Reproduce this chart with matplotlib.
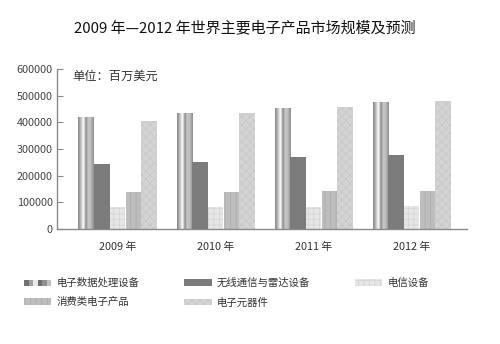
import numpy as np
import matplotlib
matplotlib.use("Agg")
import matplotlib.pyplot as plt
from matplotlib.patches import Rectangle
from matplotlib.colors import LinearSegmentedColormap
from matplotlib.legend_handler import HandlerBase

plt.rcParams['font.family'] = ['Noto Sans CJK SC', 'DejaVu Sans']
plt.rcParams['hatch.linewidth'] = 0.5

# Market size by product category (million USD)
years = ["2009 年", "2010 年", "2011 年", "2012 年"]
series_names = ["电子数据处理设备", "无线通信与雷达设备", "电信设备", "消费类电子产品", "电子元器件"]
edp = [419000, 434000, 454000, 476000]
wireless = [243000, 250000, 269000, 277000]
telecom = [82000, 82000, 82000, 86000]
consumer = [137000, 137000, 142000, 141000]
components = [406000, 434000, 456000, 480000]
yticks = [0, 100000, 200000, 300000, 400000, 500000, 600000]

values = [edp, wireless, telecom, consumer, components]

# metallic cylinder look for the first series
metal = LinearSegmentedColormap.from_list("metal", [
    (0.00, "#858585"), (0.12, "#a8a8a8"), (0.28, "#e6e6e6"), (0.36, "#ffffff"),
    (0.44, "#b4b4b4"), (0.52, "#8c8c8c"), (0.62, "#c6c6c6"), (0.78, "#c0c0c0"),
    (1.00, "#8e8e8e")])

styles = [
    None,
    dict(facecolor="#7b7b7b", edgecolor="#9a9a9a", hatch=None),
    dict(facecolor="#e6e6e6", edgecolor="#d4d4d4", hatch="+++"),
    dict(facecolor="#bdbdbd", edgecolor="#a9a9a9", hatch="|||"),
    dict(facecolor="#d3d3d3", edgecolor="#c6c6c6", hatch="xxxx"),
]

fig = plt.figure(figsize=(5.0, 3.44), dpi=100)
ax = fig.add_axes([0.114, 0.3343, 0.8194, 0.4651])

x = np.arange(len(years))
width = 0.157
step = 0.16
grad = np.linspace(0, 1, 256).reshape(1, -1)

for i, vals in enumerate(values):
    pos = x + (i - 2) * step
    if i == 0:
        bars = ax.bar(pos, vals, width, color="none", linewidth=0)
        for b in bars:
            x0, y0 = b.get_x(), b.get_y()
            im = ax.imshow(grad, cmap=metal, aspect="auto",
                           extent=[x0, x0 + b.get_width(), y0, y0 + b.get_height()],
                           zorder=2)
            im.set_clip_path(b)
    else:
        st = styles[i]
        ax.bar(pos, vals, width, facecolor=st["facecolor"], edgecolor=st["edgecolor"],
               hatch=st["hatch"], linewidth=0, zorder=2)

ax.set_xlim(-0.617, 3.56)
ax.set_ylim(0, 600000)
ax.set_yticks(yticks)
ax.set_yticklabels([str(v) for v in yticks])
ax.set_xticks(x)
ax.set_xticklabels(years)
ax.tick_params(axis="y", direction="in", length=4, width=0.8, color="#888888",
               labelsize=7.8, labelcolor="#444444", pad=3)
ax.tick_params(axis="x", length=0, labelsize=7.8, labelcolor="#333333", pad=9)
for s in ["top", "right"]:
    ax.spines[s].set_visible(False)
for s in ["left", "bottom"]:
    ax.spines[s].set_color("#8a8a8a")
    ax.spines[s].set_linewidth(1.0)
ax.set_aspect("auto")

ax.text(0.038, 0.955, "单位：百万美元", transform=ax.transAxes, fontsize=8.8,
        color="#333333", va="center", ha="left")

fig.text(0.49, 0.918, "2009 年—2012 年世界主要电子产品市场规模及预测",
         ha="center", va="center", fontsize=10.8, color="#111111")


class MetalHandler(HandlerBase):
    def create_artists(self, legend, orig_handle, xdescent, ydescent, width, height,
                       fontsize, trans):
        arts = []
        n = 6
        shades = ["#707070", "#a0a0a0", "#e8e8e8", "#6e6e6e", "#909090", "#c0c0c0"]
        w = width / n
        for k in range(n):
            r = Rectangle((xdescent + k * w, ydescent), w, height,
                          facecolor=shades[k], edgecolor="none", transform=trans)
            arts.append(r)
        return arts


handles = [Rectangle((0, 0), 1, 1, facecolor="#999999")]
for st in styles[1:]:
    handles.append(Rectangle((0, 0), 1, 1, facecolor=st["facecolor"],
                             edgecolor=st["edgecolor"], hatch=st["hatch"], linewidth=0))

order = [0, 3, 1, 4, 2]
leg = fig.legend([handles[k] for k in order], [series_names[k] for k in order],
                 ncol=3, loc="upper left", bbox_to_anchor=(0.03, 0.22),
                 frameon=False, fontsize=7.5, handlelength=2.6, handleheight=0.6,
                 handletextpad=0.5, columnspacing=4.3, labelspacing=0.9,
                 handler_map={handles[0]: MetalHandler()})
for t in leg.get_texts():
    t.set_color("#333333")

fig.savefig("out.png", dpi=100, facecolor="white")
